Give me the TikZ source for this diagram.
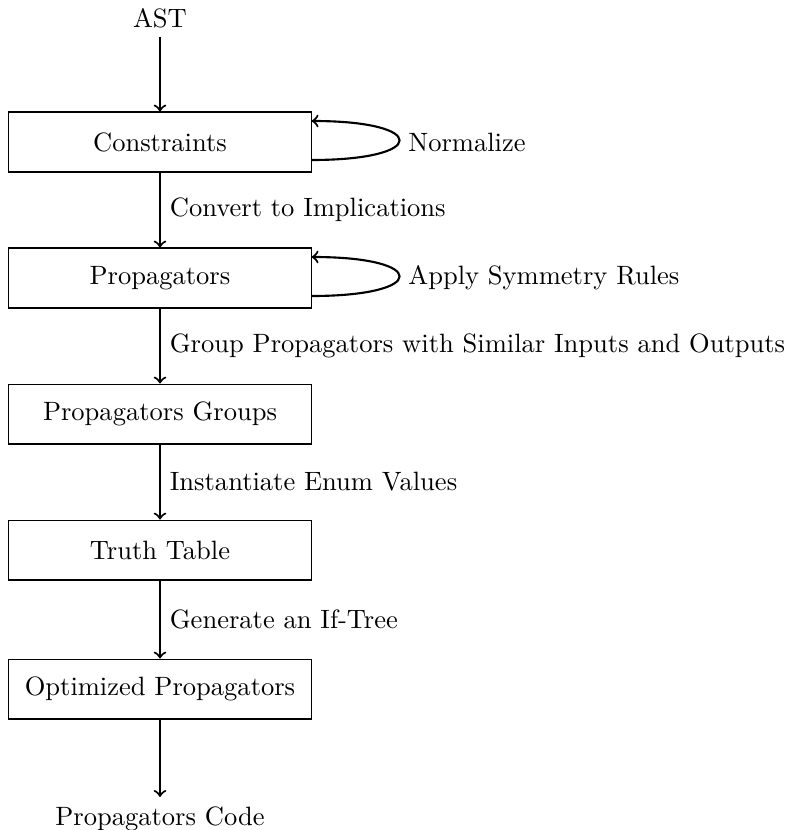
\documentclass[tikz,border=0pt]{standalone}
\usetikzlibrary{arrows}
\begin{document}
\begin{tikzpicture}[x=0.377pt,y=-0.377pt,
  box/.style={draw,thin,minimum width=113.9pt,minimum height=22.6pt,inner sep=2pt},
  flow/.style={->,thick},
  lbl/.style={right,midway}]
\useasboundingbox (0,0) rectangle (788,830);
\node[anchor=base] (ast) at (160,27) {AST};
\node[box] (c) at (160,142) {Constraints};
\node[box] (p) at (160,278) {Propagators};
\node[box] (g) at (160,414) {Propagators Groups};
\node[box] (t) at (160,550) {Truth Table};
\node[box] (o) at (160,689) {Optimized Propagators};
\node[anchor=base] (code) at (160,825) {Propagators Code};

\draw[flow] (ast) -- (c);
\draw[flow] (c) -- node[lbl] {Convert to Implications} (p);
\draw[flow] (p) -- node[lbl] {Group Propagators with Similar Inputs and Outputs} (g);
\draw[flow] (g) -- node[lbl] {Instantiate Enum Values} (t);
\draw[flow] (t) -- node[lbl] {Generate an If-Tree} (o);
\draw[flow] (o) -- (code);

\coordinate (c1) at ([yshift=-18*0.377pt]c.east);
\coordinate (c2) at ([yshift=21*0.377pt]c.east);
\draw[flow] (c1) .. controls +(117,0) and +(117,0) .. (c2);
\node[anchor=west] (nl) at (399,142) {Normalize};
\coordinate (p1) at ([yshift=-18*0.377pt]p.east);
\coordinate (p2) at ([yshift=21*0.377pt]p.east);
\draw[flow] (p1) .. controls +(117,0) and +(117,0) .. (p2);
\node[anchor=west] (sl) at (399,278) {Apply Symmetry Rules};
\end{tikzpicture}
\end{document}
